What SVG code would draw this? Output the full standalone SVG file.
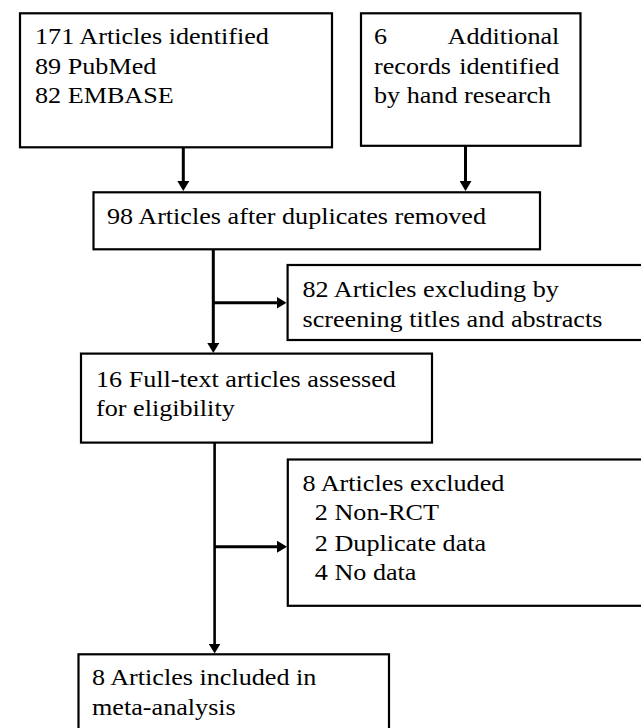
<svg xmlns="http://www.w3.org/2000/svg" width="641" height="728" viewBox="0 0 641 728">
  <style>
    .box { fill: #ffffff; stroke: #000000; stroke-width: 2.2; }
    .lbl { font-size: 24px; fill: #000000; }
    .con { fill: none; stroke: #000000; stroke-width: 3; }
    .thin { stroke-width: 2.6; }
  </style>
  <defs>
    <marker id="ah" viewBox="0 0 10 12" refX="1" refY="6" markerWidth="10" markerHeight="12" markerUnits="userSpaceOnUse" orient="auto">
      <path d="M0,0 L10,6 L0,12 Z" fill="#000000"/>
    </marker>
  </defs>
  <rect width="641" height="728" fill="#ffffff"/>

  <g id="connectors">
    <line class="con" x1="183.3" y1="147" x2="183.3" y2="182" marker-end="url(#ah)"/>
    <line class="con" x1="465.5" y1="146" x2="465.5" y2="182" marker-end="url(#ah)"/>
    <line class="con" x1="213.3" y1="249" x2="213.3" y2="344" marker-end="url(#ah)"/>
    <line class="con" x1="213.3" y1="302.7" x2="277.5" y2="302.7" marker-end="url(#ah)"/>
    <line class="con thin" x1="214.6" y1="443" x2="214.6" y2="644.5" marker-end="url(#ah)"/>
    <line class="con" x1="214.6" y1="546.7" x2="278" y2="546.7" marker-end="url(#ah)"/>
  </g>

  <g font-family="Liberation Serif, serif">
  <g id="n1">
    <rect class="box" x="20" y="13.3" width="312" height="134"/>
    <text class="lbl" transform="translate(35,44.3) scale(1.09,1)">
      <tspan x="0" y="0">171 Articles identified</tspan>
      <tspan x="0" y="29.7">89 PubMed</tspan>
      <tspan x="0" y="59">82 EMBASE</tspan>
    </text>
  </g>

  <g id="n2">
    <rect class="box" x="361" y="13.3" width="219.5" height="132.5"/>
    <text class="lbl" transform="translate(374,44.3) scale(1.09,1)">
      <tspan x="0" y="0">6</tspan>
      <tspan x="176.1" y="0" text-anchor="end">Additional</tspan>
      <tspan x="0" y="29.7">records</tspan>
      <tspan x="176.1" y="29.7" text-anchor="end">identified</tspan>
      <tspan x="0" y="59">by hand research</tspan>
    </text>
  </g>

  <g id="n3">
    <rect class="box" x="93.5" y="192.3" width="446.5" height="57"/>
    <text class="lbl" transform="translate(107,224.3) scale(1.09,1)">98 Articles after duplicates removed</text>
  </g>

  <g id="n4">
    <rect class="box" x="287.6" y="265" width="365" height="75"/>
    <text class="lbl" transform="translate(302.5,296.7) scale(1.09,1)">
      <tspan x="0" y="0">82 Articles excluding by</tspan>
      <tspan x="0" y="30.6">screening titles and abstracts</tspan>
    </text>
  </g>

  <g id="n5">
    <rect class="box" x="81" y="353.6" width="351" height="89"/>
    <text class="lbl" transform="translate(96,386.7) scale(1.09,1)">
      <tspan x="0" y="0">16 Full-text articles assessed</tspan>
      <tspan x="0" y="29">for eligibility</tspan>
    </text>
  </g>

  <g id="n6">
    <rect class="box" x="287.8" y="459.5" width="365" height="146.3"/>
    <text class="lbl" transform="translate(302.5,490.7) scale(1.09,1)">
      <tspan x="0" y="0">8 Articles excluded</tspan>
      <tspan x="11.3" y="29.5">2 Non-RCT</tspan>
      <tspan x="11.3" y="60">2 Duplicate data</tspan>
      <tspan x="11.3" y="89.5">4 No data</tspan>
    </text>
  </g>

  <g id="n7">
    <rect class="box" x="78.5" y="654.3" width="310.5" height="90"/>
    <text class="lbl" transform="translate(92,685) scale(1.09,1)">
      <tspan x="0" y="0">8 Articles included in</tspan>
      <tspan x="0" y="30">meta-analysis</tspan>
    </text>
  </g>
  </g>
</svg>
